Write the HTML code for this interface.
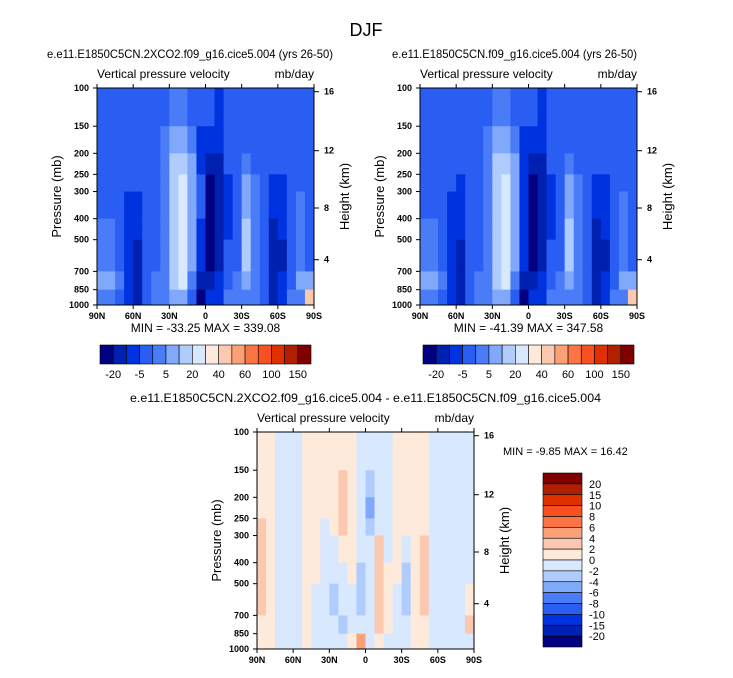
<!DOCTYPE html>
<html><head><meta charset="utf-8">
<style>
body{margin:0;background:#fff;}
svg text{font-family:"Liberation Sans",sans-serif;fill:#000;}
</style></head>
<body>
<svg id="fig" width="733" height="673" viewBox="0 0 733 673" xmlns="http://www.w3.org/2000/svg">
<text x="366" y="36" font-size="18" text-anchor="middle">DJF</text>
<g id="p1"></g>
<g id="p2"></g>
<g id="p3"></g>
</svg>
<script>
// ---- data ----
const levels = [100,150,200,250,300,400,500,700,850,1000];
const lats = [90,82.5,75,67.5,60,52.5,45,37.5,30,22.5,15,7.5,0,-7.5,-15,-22.5,-30,-37.5,-45,-52.5,-60,-67.5,-75,-82.5,-90];
const xTickLabels = ["90N","60N","30N","0","30S","60S","90S"];
const xTickLats = [90,60,30,0,-30,-60,-90];
const pTicks = [100,150,200,250,300,400,500,700,850,1000];
const hTickLabels = ["16","12","8","4"];
const hTickY = [91.7,150.7,208,259.7];
const absBounds = [-20,-10,-5,0,5,10,20,30,40,50,60,80,100,120,150];
const absBarLabels = ["-20","-5","5","20","40","60","100","150"];
const diffBounds = [-20,-15,-10,-8,-6,-4,-2,0,2,4,6,8,10,15,20];
const diffBarLabels = ["20","15","10","8","6","4","2","0","-2","-4","-6","-8","-10","-15","-20"];
const colors = ["#000080","#0020b0","#0033e0","#2a5ef2","#4a7cf8","#80a8fb","#b0ccfd","#d8e8fe","#feeadb","#fdc8b0","#fca078","#fa7444","#f85020","#e03000","#b02000","#800000"];
// columns: 24 latitude bins (N->S), rows: 9 pressure layers (top->bottom)
const field1 = [
[-3,-3,-3,-3,-3,2,2,7,2],[-3,-3,-3,-3,-3,2,2,7,2],[-3,-3,-3,-3,-3,-3,-3,2,-3],[-3,-3,-3,-3,-7,-7,-7,-7,-7],
[-3,-3,-3,-3,-7,-7,-15,-15,-15],[-3,-3,-3,-3,-3,-3,-3,-3,-3],[-3,-3,-3,-3,-3,-3,-3,2,2],[-3,2,2,2,2,2,2,2,2],
[2,7,15,15,15,15,15,15,7],[2,7,15,25,25,25,25,25,7],[-3,2,7,7,7,7,7,2,-3],[-3,-7,-7,-3,-3,-7,-7,-15,-25],
[-3,-7,-15,-25,-25,-25,-25,-15,-7],[-7,-7,-15,-15,-15,-15,-15,-7,-7],[-3,-3,-3,-7,-7,-7,-3,-3,2],[-3,-3,-3,-3,-3,-3,-3,2,2],
[-3,-3,2,7,7,15,15,7,2],[-3,-3,-3,2,2,2,2,2,2],[-3,-3,-3,-3,-3,-3,-3,-3,-3],[-3,-3,-3,-7,-7,-15,-15,-15,-15],
[-3,-3,-3,-7,-7,-7,-15,-7,-7],[-3,-3,-3,-3,-3,-3,-3,-3,2],[-3,-3,-3,-3,2,2,2,7,2],[-3,-3,-3,-3,-3,-3,-3,7,45]];
const field2 = [
[-3,-3,-3,-3,-3,2,2,7,2],[-3,-3,-3,-3,-3,2,2,7,2],[-3,-3,-3,-3,-3,-3,-3,2,-3],[-3,-3,-3,-3,-7,-7,-7,-7,-7],
[-3,-3,-3,-7,-7,-7,-15,-15,-15],[-3,-3,-3,-3,-3,-3,-3,-3,-3],[-3,-3,-3,-3,-3,-3,-3,2,2],[-3,2,2,2,2,2,2,2,2],
[2,7,15,15,15,15,15,15,7],[2,7,15,25,25,25,25,25,7],[-3,2,7,7,7,7,7,2,-3],[-3,-7,-7,-7,-7,-7,-7,-15,-25],
[-3,-7,-15,-25,-25,-25,-25,-15,-7],[-7,-7,-15,-15,-15,-15,-15,-7,-7],[-3,-3,-3,-7,-7,-7,-3,-3,2],[-3,-3,-3,-3,-3,-3,-3,2,2],
[-3,-3,2,7,7,15,15,7,2],[-3,-3,-3,2,2,2,2,2,2],[-3,-3,-3,-3,-3,-3,-3,-3,-3],[-3,-3,-3,-7,-7,-15,-15,-15,-15],
[-3,-3,-3,-7,-7,-7,-15,-7,-7],[-3,-3,-3,-3,-3,-3,-3,-3,2],[-3,-3,-3,-3,2,2,2,7,2],[-3,-3,-3,-3,-3,-3,-3,7,45]];
const fieldDiff = [
[1,1,1,3,3,3,3,1,1],[1,1,1,1,1,1,1,1,1],[-1,-1,-1,-1,-1,-1,-1,-1,-1],[-1,-1,-1,-1,-1,-1,-1,-1,-1],
[-1,-1,-1,-1,-1,-1,-1,-1,-1],[1,1,1,1,1,1,1,1,1],[1,1,1,1,1,1,-1,-1,-1],[1,1,1,-1,-1,-1,-1,-1,-1],
[1,1,1,1,-1,-1,-3,-1,-1],[1,3,3,3,1,-1,-1,-3,-1],[1,1,1,1,1,1,-1,-1,1],[-1,-1,-1,-1,-1,-3,-3,-1,5],
[-1,-3,-5,-3,-1,-1,-1,-1,-1],[-1,-1,-1,-1,3,3,3,3,1],[-1,-1,-1,-1,-1,1,1,1,-1],[1,1,1,1,1,1,-1,-1,-1],
[1,1,1,1,-1,-3,-3,-1,-1],[1,1,1,1,1,1,1,1,1],[1,1,1,1,3,3,3,1,1],[-1,-1,-1,-1,-1,-1,-1,-1,-1],
[-1,-1,-1,-1,-1,-1,-1,-1,-1],[-1,-1,-1,-1,-1,-1,-1,-1,-1],[-1,-1,-1,-1,-1,-1,-1,-1,-1],[-1,-1,-1,-1,-1,-1,1,3,-1]];

const NS="http://www.w3.org/2000/svg";
function mk(parent,tag,attrs,text){const e=document.createElementNS(NS,tag);for(const k in attrs)e.setAttribute(k,attrs[k]);if(text!==undefined)e.textContent=text;parent.appendChild(e);return e;}
function colorFor(v,bounds){let i=0;while(i<bounds.length&&v>=bounds[i])i++;return colors[i];}

function panel(g,x0,y0,field,bounds,title,opt){
  const W=217,H=217;
  const xs=lat=>x0+(90-lat)/180*W;
  const ys=p=>y0+H*Math.log(p/100)/Math.log(10);
  mk(g,'text',{x:opt.tx,y:y0-30,'font-size':12,textLength:opt.tw,lengthAdjust:'spacingAndGlyphs',},title);
  mk(g,'text',{x:x0,y:y0-10,'font-size':12,},'Vertical pressure velocity');
  mk(g,'text',{x:x0+W,y:y0-10,'font-size':12,'text-anchor':'end',},'mb/day');
  for(let c=0;c<field.length;c++){
    for(let r=0;r<field[c].length;r++){
      const x1=xs(lats[c]),x2=xs(lats[c+1]),y1=ys(levels[r]),y2=ys(levels[r+1]);
      const cell=mk(g,'rect',{x:x1,y:y1,width:x2-x1+0.5,height:y2-y1+0.5,fill:colorFor(field[c][r],bounds)});
      
      
    }
  }
  mk(g,'rect',{x:x0,y:y0,width:W,height:H,fill:'none',stroke:'#000','stroke-width':1,});
  xTickLats.forEach((lat,i)=>{
    const x=xs(lat);
    mk(g,'line',{x1:x,x2:x,y1:y0+H,y2:y0+H+4,stroke:'#000'});
    mk(g,'line',{x1:x,x2:x,y1:y0,y2:y0-4,stroke:'#000'});
    const t=mk(g,'text',{x:x,y:y0+H+14,'font-size':9,'font-weight':'bold','text-anchor':'middle'},xTickLabels[i]);
    
    
  });
  pTicks.forEach(p=>{
    const y=ys(p);
    mk(g,'line',{x1:x0,x2:x0-4,y1:y,y2:y,stroke:'#000'});
    const t=mk(g,'text',{x:x0-8,y:y+3,'font-size':9,'font-weight':'bold','text-anchor':'end'},String(p));
    
    
  });
  hTickLabels.forEach((l,i)=>{
    const y=y0+(hTickY[i]-88);
    mk(g,'line',{x1:x0+W,x2:x0+W+5,y1:y,y2:y,stroke:'#000'});
    const t=mk(g,'text',{x:x0+W+10,y:y+3,'font-size':9,'font-weight':'bold'},l);
    
    
  });
  mk(g,'text',{transform:`translate(${x0-36},${y0+H/2}) rotate(-90)`,'font-size':13,'text-anchor':'middle',},'Pressure (mb)');
  mk(g,'text',{transform:`translate(${x0+W+35},${y0+H/2}) rotate(-90)`,'font-size':13,'text-anchor':'middle',},'Height (km)');
  if(!opt.side){
    mk(g,'text',{x:x0+W/2,y:y0+H+27,'font-size':12,'text-anchor':'middle',},opt.text);
    const bx=x0+3,bw=211/16;
    colors.forEach((c,i)=>{
      const b=mk(g,'rect',{x:bx+i*bw,y:345,width:bw,height:19,fill:c,stroke:'#000','stroke-width':0.6});
      
      
    });
    absBarLabels.forEach((l,i)=>{
      const t=mk(g,'text',{x:bx+(2*i+1)*bw,y:378,'font-size':11,'text-anchor':'middle'},l);
      
      
    });
  } else {
    mk(g,'text',{x:503,y:455,'font-size':11,},opt.text);
    const by=473,bh=174/16;
    colors.slice().reverse().forEach((c,i)=>{
      const b=mk(g,'rect',{x:543,y:by+i*bh,width:39,height:bh,fill:c,stroke:'#000','stroke-width':0.6});
      
      
    });
    diffBarLabels.forEach((l,i)=>{
      const t=mk(g,'text',{x:589,y:by+(i+1)*bh+4,'font-size':11},l);
      
      
    });
  }
}
panel(document.getElementById('p1'),97,88,field1,absBounds,'e.e11.E1850C5CN.2XCO2.f09_g16.cice5.004 (yrs 26-50)',{tx:47,tw:286,text:'MIN = -33.25  MAX = 339.08'});
panel(document.getElementById('p2'),420,88,field2,absBounds,'e.e11.E1850C5CN.f09_g16.cice5.004 (yrs 26-50)',{tx:392,tw:245,text:'MIN = -41.39  MAX = 347.58'});
panel(document.getElementById('p3'),257,432,fieldDiff,diffBounds,'e.e11.E1850C5CN.2XCO2.f09_g16.cice5.004 - e.e11.E1850C5CN.f09_g16.cice5.004',{side:true,tx:130,tw:471,text:'MIN =  -9.85  MAX =  16.42'});
</script>
</body></html>
